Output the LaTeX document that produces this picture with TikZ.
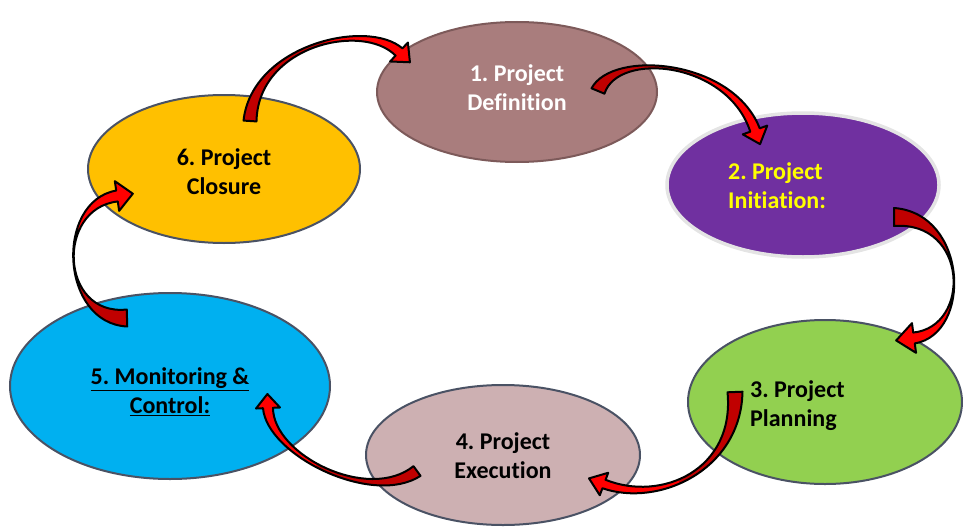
\documentclass[tikz,border=0pt]{standalone}
\usepackage{fontspec}
\setmainfont{Carlito}[Ligatures=NoCommon]
\frenchspacing
\usetikzlibrary{shapes.geometric,calc}
\definecolor{cDef}{HTML}{A97D7D}
\definecolor{cDefB}{HTML}{7D5A5A}
\definecolor{cIni}{HTML}{7030A0}
\definecolor{cIniB}{HTML}{E4E4E4}
\definecolor{cPla}{HTML}{92D050}
\definecolor{cExe}{HTML}{CDB0B2}
\definecolor{cMon}{HTML}{00B0F0}
\definecolor{cClo}{HTML}{FFC000}
\definecolor{cEdge}{HTML}{4A5264}
\definecolor{cRed}{HTML}{FF0000}
\definecolor{cDark}{HTML}{C00000}
\definecolor{cYel}{HTML}{FFFF00}
\tikzset{
  phase/.style={ellipse, draw=cEdge, line width=2pt, inner sep=0pt},
  lbl/.style={font=\fontsize{24}{29}\selectfont\bfseries, inner sep=0pt},
  blockarrow/.style={draw=black, line width=2pt, line join=round},
}
% #1 start #2 ctrl1 #3 ctrl2 #4 end (head base) #5 half tail width
% #6 half ctrl width #7 half end width #8 half head width #9 head length
\newcommand{\arrpath}[9]{%
    ($(#1)!#5pt!90:(#2)$) .. controls ($(#2)!#6pt!-90:(#1)$) and ($(#3)!#6pt!90:(#4)$) .. ($(#4)!#7pt!-90:(#3)$)
    -- ($(#4)!#8pt!-90:(#3)$) -- ($(#4)!-#9pt!(#3)$) -- ($(#4)!#8pt!90:(#3)$)
    -- ($(#4)!#7pt!90:(#3)$) .. controls ($(#3)!#6pt!-90:(#4)$) and ($(#2)!#6pt!90:(#1)$) .. ($(#1)!#5pt!-90:(#2)$)
    -- cycle}
\newcommand{\blockarr}[9]{%
  \begin{scope}
    \clip \arrpath{#1}{#2}{#3}{#4}{#5}{#6}{#7}{#8}{#9};
    \fill[cDark] (#1) circle (200pt);
    \fill[cRed] (#4) circle (75pt);
  \end{scope}
  \draw[blockarrow] \arrpath{#1}{#2}{#3}{#4}{#5}{#6}{#7}{#8}{#9};}
\begin{document}
\begin{tikzpicture}[x=1pt,y=-1pt]
\useasboundingbox (0,0) rectangle (963,527);
% phases
\node[phase, fill=cDef, draw=cDefB, minimum width=280pt, minimum height=140pt] (p1) at (517,92) {};
\node[phase, fill=cIni, draw=cIniB, line width=3.5pt, minimum width=272pt, minimum height=144pt] (p2) at (803,185) {};
\node[phase, fill=cPla, minimum width=274pt, minimum height=164pt] (p3) at (825,402) {};
\node[phase, fill=cExe, minimum width=274pt, minimum height=140pt] (p4) at (503,455) {};
\node[phase, fill=cMon, minimum width=320pt, minimum height=186pt] (p5) at (170,386) {};
\node[phase, fill=cClo, minimum width=272pt, minimum height=148pt] (p6) at (224,169) {};
% labels
\node[lbl, text=white, align=center] (t1) at (517,88) {1. Project\\Definition};
\node[lbl, text=cYel, align=left, anchor=west] (t2) at (728,186) {2. Project\\Initiation:};
\node[lbl, align=left, anchor=west] (t3) at (750,406) {3. Project\\Planning};
\node[lbl, align=center] (t4) at (503,456) {4. Project\\Execution};
\node[lbl, align=center] (t5) at (170,392) {\underline{5. Monitoring \&}\\\underline{Control:}};
\node[lbl, align=center] (t6) at (224,172) {6. Project\\Closure};
% arrow control coordinates
\coordinate (a1s) at (250,121); \coordinate (a1c) at (255,45);  \coordinate (a1d) at (365,20);  \coordinate (a1e) at (399,52);
\coordinate (a2s) at (598,91);  \coordinate (a2c) at (615,50);  \coordinate (a2d) at (730,60);  \coordinate (a2e) at (755,130);
\coordinate (a3s) at (894,217); \coordinate (a3c) at (968,217); \coordinate (a3d) at (972,330); \coordinate (a3e) at (914,338);
\coordinate (a4s) at (735,392); \coordinate (a4c) at (738,470); \coordinate (a4d) at (660,505); \coordinate (a4e) at (604,484);
\coordinate (a5s) at (417,471); \coordinate (a5c) at (370,505); \coordinate (a5d) at (270,455); \coordinate (a5e) at (268,408);
\coordinate (a6s) at (127,318); \coordinate (a6c) at (60,320);  \coordinate (a6d) at (55,205);  \coordinate (a6e) at (117,196);
% arrows
\blockarr{a1s}{a1c}{a1d}{a1e}{6.5}{3}{5}{13}{15}
\blockarr{a2s}{a2c}{a2d}{a2e}{7}{3}{5}{13}{15}
\blockarr{a3s}{a3c}{a3d}{a3e}{9}{3.5}{5.5}{15}{18}
\blockarr{a4s}{a4c}{a4d}{a4e}{7.5}{3}{4.5}{12}{16}
\blockarr{a5s}{a5c}{a5d}{a5e}{6}{3}{5}{12}{14}
\blockarr{a6s}{a6c}{a6d}{a6e}{8.5}{3.5}{5.5}{15}{16}
\end{tikzpicture}
\end{document}
